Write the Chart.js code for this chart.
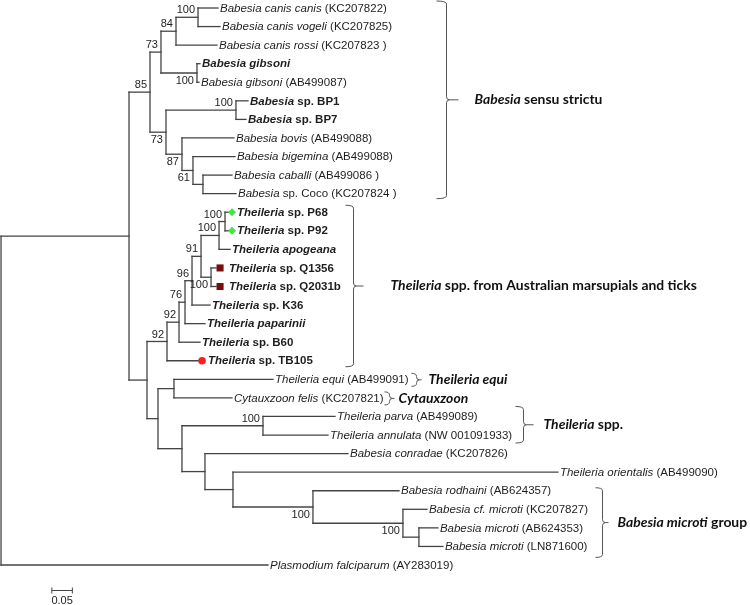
<!DOCTYPE html>
<html lang="en">
<head>
<meta charset="UTF-8">
<title>Piroplasm 18S tree</title>
<script src="https://cdn.jsdelivr.net/npm/chart.js"></script>
<style>
  body { margin: 0; background: #ffffff; }
  .tree-wrap { width: 750px; height: 605px; position: relative; }
</style>
</head>
<body>
<div class="tree-wrap"><canvas id="treeChart"></canvas></div>
<script>
// tip labels from top to bottom, *...* is printed in italics
const taxa = [
  '*Babesia canis canis* (KC207822)',
  '*Babesia canis vogeli* (KC207825)',
  '*Babesia canis rossi* (KC207823 )',
  '*Babesia gibsoni*',
  '*Babesia gibsoni* (AB499087)',
  '*Babesia* sp. BP1',
  '*Babesia* sp. BP7',
  '*Babesia bovis* (AB499088)',
  '*Babesia bigemina* (AB499088)',
  '*Babesia caballi* (AB499086 )',
  '*Babesia* sp. Coco (KC207824 )',
  '*Theileria* sp. P68',
  '*Theileria* sp. P92',
  '*Theileria apogeana*',
  '*Theileria* sp. Q1356',
  '*Theileria* sp. Q2031b',
  '*Theileria* sp. K36',
  '*Theileria paparinii*',
  '*Theileria* sp. B60',
  '*Theileria* sp. TB105',
  '*Theileria equi* (AB499091)',
  '*Cytauxzoon felis* (KC207821)',
  '*Theileria parva* (AB499089)',
  '*Theileria annulata* (NW 001091933)',
  '*Babesia conradae* (KC207826)',
  '*Theileria orientalis* (AB499090)',
  '*Babesia rodhaini* (AB624357)',
  '*Babesia cf. microti* (KC207827)',
  '*Babesia microti* (AB624353)',
  '*Babesia microti* (LN871600)',
  '*Plasmodium falciparum* (AY283019)'
];

// taxa in bold
const boldTaxa = [3, 5, 6, 11, 12, 13, 14, 15, 16, 17, 18, 19];

// coloured symbols next to some isolates
const markedTaxa = [11, 12, 14, 15, 19];
const markerShapes = ['rectRot', 'rectRot', 'rect', 'rect', 'circle'];
const markerColors = ['#3ee83e', '#3ee83e', '#7b0c0c', '#7b0c0c', '#ff1c1c'];

// tree in newick form: leaf = index into taxa, label after ')' = bootstrap, ':' = branch length
const babesiaSS = '((((0:0.0488,1:0.0537)100:0.0537,2:0.1000)84:0.0366,(3:0.0073,4:0.0049)100:0.0878)73:0.0268,' +
  '((5:0.0293,6:0.0244)100:0.1707,(7:0.1268,(8:0.1024,(9:0.0707,10:0.0805):0.0244)61:0.0268)87:0.0390)73:0.0390)85:0.0512';
const theileriaAus = '(((((((11:0.0073,12:0.0073)100:0.0146,13:0.0268)100:0.0439,(14:0.0122,15:0.0122)100:0.0244)91:0.0220,' +
  '16:0.0439)96:0.0171,17:0.0488)76:0.0146,18:0.0512)92:0.0293,19:0.0756)92:0.0488';
const otherPiro = '((20:0.2415,21:0.1415):0.0390,((22:0.1756,23:0.1585)100:0.1976,(24:0.3488,(25:0.7927,(26:0.2098,' +
  '(27:0.0585,(28:0.0463,29:0.0585):0.0390)100:0.2195)100:0.1951):0.0683):0.0561):0.0585):0.0268';
const newick = '((' + babesiaSS + ',(' + theileriaAus + ',' + otherPiro + '):0.0439):0.3122,30:0.6512);';

// clade brackets on the right: name and [first leaf, last leaf]
const cladeNames = [
  '*Babesia* sensu strictu',
  '*Theileria* spp. from Australian marsupials and ticks',
  '*Theileria equi*',
  '*Cytauxzoon*',
  '*Theileria* spp.',
  '*Babesia microti* group'
];
const cladeRanges = [[0, 10], [11, 19], [20, 20], [21, 21], [22, 23], [26, 29]];

const scaleBarLength = 0.05;

// ---- layout (not data) ----
// bracket: x of vertical (tree units), hook px, tick px, label gap px, pad above / below px
const bracketLayout = [
  { x: 1.0854, hook: 10, tick: 12, gap: 28, pad: [7, 5] },
  { x: 0.8585, hook: 8, tick: 10, gap: 37, pad: [7, 6] },
  { x: 1.0122, hook: 5, tick: 5, gap: 12, pad: [6, 7] },
  { x: 0.9463, hook: 5, tick: 5, gap: 9, pad: [6, 7] },
  { x: 1.2732, hook: 8, tick: 10, gap: 20, pad: [10, 8] },
  { x: 1.4659, hook: 7, tick: 6, gap: 15, pad: [3, 11] }
];
const markerGap = 0.0098;
const markerRadius = [4, 4, 5, 5, 3.8];
const markerTextGap = [9, 9, 13, 13, 10];
const scaleBarStart = 0.124;

function parseNewick(s) {
  let i = 0;
  function node() {
    const n = { children: [] };
    if (s[i] === '(') {
      i++;
      n.children.push(node());
      while (s[i] === ',') { i++; n.children.push(node()); }
      i++;
    }
    let label = '';
    while (i < s.length && !',):;'.includes(s[i])) label += s[i++];
    if (s[i] === ':') {
      i++;
      let bl = '';
      while (i < s.length && !',);'.includes(s[i])) bl += s[i++];
      n.length = parseFloat(bl);
    }
    if (n.children.length) n.support = label;
    else n.leaf = parseInt(label, 10);
    return n;
  }
  return node();
}

// x = distance from root, y = leaf row, internal y = middle of first and last child
function place(n, depth) {
  n.x = depth + (n.length || 0);
  if (!n.children.length) { n.y = n.leaf; return; }
  n.children.forEach(c => place(c, n.x));
  n.y = (n.children[0].y + n.children[n.children.length - 1].y) / 2;
}

const tree = parseNewick(newick);
place(tree, 0);

const segments = [];
const supports = [];
const tipX = [];
(function walk(n) {
  if (!n.children.length) { tipX[n.leaf] = n.x; return; }
  const first = n.children[0], last = n.children[n.children.length - 1];
  segments.push([{ x: n.x, y: first.y }, { x: n.x, y: last.y }]);
  n.children.forEach((c, k) => {
    segments.push([{ x: n.x, y: c.y }, { x: c.x, y: c.y }]);
    if (c.support) supports.push({ x: c.x, y: c.y, text: c.support, below: k > 0 });
    walk(c);
  });
})(tree);

const lineColor = '#444444';
const branchSets = segments.map(seg => ({
  data: seg,
  showLine: true,
  borderColor: lineColor,
  borderWidth: 1.3,
  borderCapStyle: 'square',
  pointRadius: 0,
  fill: false
}));

const markerSet = {
  data: markedTaxa.map(i => ({ x: tipX[i] + markerGap, y: i })),
  pointStyle: markerShapes,
  pointRadius: markerRadius,
  backgroundColor: markerColors,
  borderColor: markerColors,
  borderWidth: 0,
  showLine: false
};

// split '*italic* plain' into runs
function runs(str) {
  return str.split('*').map((t, k) => ({ t: t, it: k % 2 === 1 })).filter(r => r.t.length);
}

function drawRuns(ctx, str, x, y, size, family, bold) {
  runs(str).forEach(r => {
    ctx.font = (r.it ? 'italic ' : '') + (bold ? 'bold ' : '') + size + 'px ' + family;
    ctx.fillText(r.t, x, y);
    x += ctx.measureText(r.t).width;
  });
}

const treeLabels = {
  id: 'treeLabels',
  afterDatasetsDraw(chart) {
    const ctx = chart.ctx;
    const xs = chart.scales.x, ys = chart.scales.y;
    ctx.save();
    ctx.textBaseline = 'middle';
    ctx.fillStyle = '#1e1e1e';

    // tip labels
    taxa.forEach((name, i) => {
      const m = markedTaxa.indexOf(i);
      const gap = m >= 0 ? markerTextGap[m] : 2;
      const x = xs.getPixelForValue(tipX[i]) + gap;
      drawRuns(ctx, name, x, ys.getPixelForValue(i) + 0.5, 11.5, '"Liberation Sans", Arial, sans-serif', boldTaxa.includes(i));
    });

    // bootstrap values
    ctx.font = '11px "Liberation Sans", Arial, sans-serif';
    ctx.textAlign = 'right';
    supports.forEach(s => {
      const px = xs.getPixelForValue(s.x) - 3;
      const py = ys.getPixelForValue(s.y) + (s.below ? 8 : -7);
      ctx.fillText(s.text, px, py);
    });
    ctx.textAlign = 'left';

    // clade brackets
    ctx.strokeStyle = '#555555';
    ctx.lineWidth = 1;
    cladeRanges.forEach((r, k) => {
      const L = bracketLayout[k];
      const vx = Math.round(xs.getPixelForValue(L.x)) + 0.5;
      const top = ys.getPixelForValue(r[0]) - L.pad[0];
      const bot = ys.getPixelForValue(r[1]) + L.pad[1];
      const mid = (top + bot) / 2;
      const c = Math.min(3, (bot - top) / 4);
      ctx.beginPath();
      ctx.moveTo(vx - L.hook, top);
      ctx.quadraticCurveTo(vx, top, vx, top + c);
      ctx.lineTo(vx, mid - c);
      ctx.quadraticCurveTo(vx, mid, vx + c, mid);
      ctx.lineTo(vx + L.tick, mid);
      ctx.moveTo(vx + c, mid);
      ctx.quadraticCurveTo(vx, mid, vx, mid + c);
      ctx.lineTo(vx, bot - c);
      ctx.quadraticCurveTo(vx, bot, vx - L.hook, bot);
      ctx.stroke();
      ctx.fillStyle = '#111111';
      drawRuns(ctx, cladeNames[k], vx + L.gap, mid, 13.9, 'Lato, "Open Sans", sans-serif', true);
    });

    // scale bar
    const x0 = xs.getPixelForValue(scaleBarStart);
    const x1 = xs.getPixelForValue(scaleBarStart + scaleBarLength);
    const yb = 590.5;
    ctx.strokeStyle = '#444444';
    ctx.beginPath();
    ctx.moveTo(x0, yb); ctx.lineTo(x1, yb);
    ctx.moveTo(x0, yb - 3); ctx.lineTo(x0, yb + 3);
    ctx.moveTo(x1, yb - 3); ctx.lineTo(x1, yb + 3);
    ctx.stroke();
    ctx.fillStyle = '#1e1e1e';
    ctx.font = '11px "Liberation Sans", Arial, sans-serif';
    ctx.textAlign = 'center';
    ctx.fillText(String(scaleBarLength), (x0 + x1) / 2, 601);
    ctx.restore();
  }
};

new Chart(document.getElementById('treeChart'), {
  type: 'scatter',
  data: { datasets: branchSets.concat([markerSet]) },
  options: {
    responsive: true,
    maintainAspectRatio: false,
    animation: false,
    events: [],
    layout: { padding: 0, autoPadding: false },
    scales: {
      x: { type: 'linear', min: -0.0025, max: 1.827, display: false },
      y: { type: 'linear', min: -0.431, max: 32.154, reverse: true, display: false }
    },
    plugins: {
      legend: { display: false },
      tooltip: { enabled: false }
    }
  },
  plugins: [treeLabels]
});
</script>
</body>
</html>
